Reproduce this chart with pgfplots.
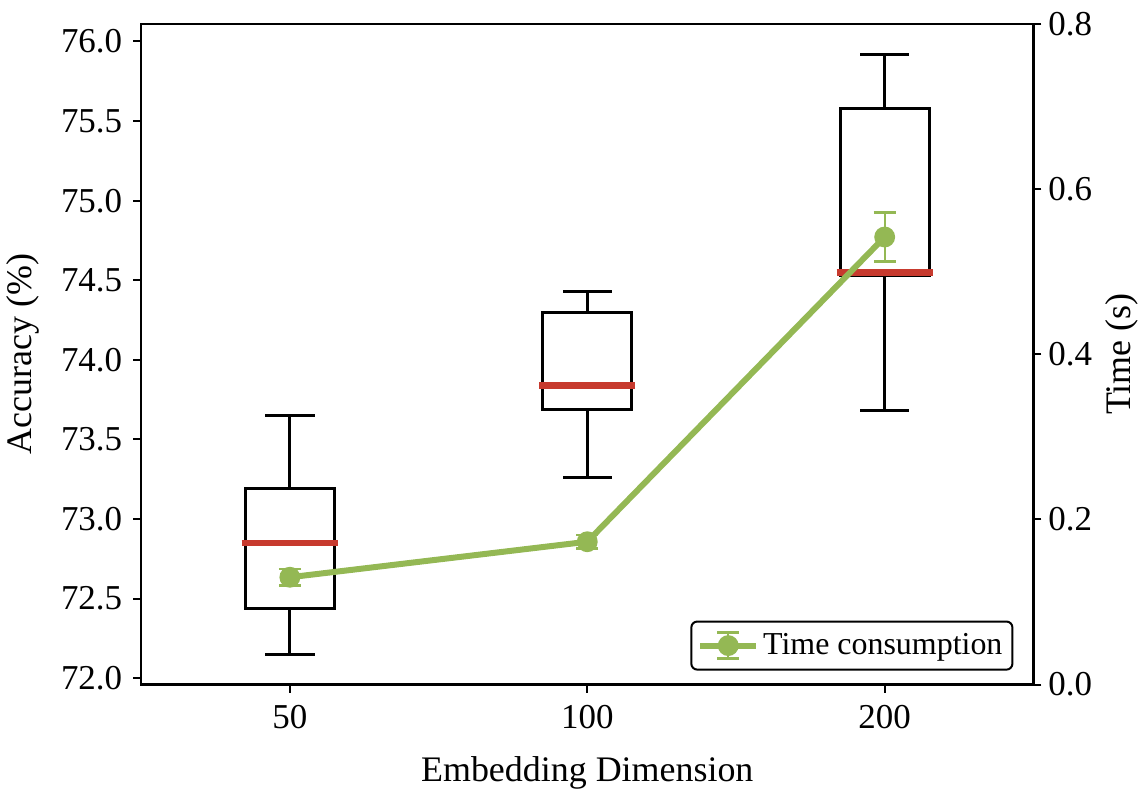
\documentclass[border=0pt]{standalone}
\usepackage{fontspec}
\setmainfont{Liberation Serif}
\usepackage{pgfplots}
\pgfplotsset{compat=1.18}
\definecolor{medred}{HTML}{C73A2E}
\definecolor{tgreen}{HTML}{94B854}
\pgfplotsset{
  boxline/.style={black, line width=1.5pt, line join=miter, line cap=rect, mark=none},
  medline/.style={medred, line width=3.3pt, mark=none},
}
\begin{document}
\begin{tikzpicture}[font=\fontsize{17}{20}\selectfont]
\begin{axis}[
  scale only axis, width=447pt, height=331pt,
  xmin=0.5, xmax=3.5, ymin=71.96, ymax=76.11,
  xtick={1,2,3}, xticklabels={50,100,200},
  ytick={72,72.5,73,73.5,74,74.5,75,75.5,76},
  /pgf/number format/assume math mode=true,
  tick label style={font=\fontsize{17.5}{20}\selectfont},
  yticklabel style={/tikz/xshift=-2pt, /pgf/number format/.cd, fixed, fixed zerofill, precision=1},
  xticklabel style={/tikz/yshift=-3pt},
  label style={font=\fontsize{18}{21}\selectfont},
  xlabel style={inner sep=1pt},
  ylabel shift=4pt, xlabel shift=9pt,
  tick align=outside, xtick pos=bottom, ytick pos=left,
  major tick length=4pt,
  every tick/.style={black, line width=1pt},
  axis line style={line width=1.2pt},
  xlabel={Embedding Dimension}, ylabel={Accuracy (\%)},
]
% box 50
\addplot[boxline] coordinates {(0.85,72.44) (1.15,72.44) (1.15,73.19) (0.85,73.19) (0.85,72.44)};
\addplot[boxline] coordinates {(1,73.19) (1,73.65)};
\addplot[boxline] coordinates {(0.922,73.65) (1.078,73.65)};
\addplot[boxline] coordinates {(1,72.44) (1,72.15)};
\addplot[boxline] coordinates {(0.922,72.15) (1.078,72.15)};
\addplot[medline] coordinates {(0.838,72.85) (1.162,72.85)};
% box 100
\addplot[boxline] coordinates {(1.85,73.69) (2.15,73.69) (2.15,74.30) (1.85,74.30) (1.85,73.69)};
\addplot[boxline] coordinates {(2,74.30) (2,74.43)};
\addplot[boxline] coordinates {(1.922,74.43) (2.078,74.43)};
\addplot[boxline] coordinates {(2,73.69) (2,73.26)};
\addplot[boxline] coordinates {(1.922,73.26) (2.078,73.26)};
\addplot[medline] coordinates {(1.838,73.84) (2.162,73.84)};
% box 200
\addplot[boxline] coordinates {(2.85,74.53) (3.15,74.53) (3.15,75.58) (2.85,75.58) (2.85,74.53)};
\addplot[boxline] coordinates {(3,75.58) (3,75.92)};
\addplot[boxline] coordinates {(2.922,75.92) (3.078,75.92)};
\addplot[boxline] coordinates {(3,74.53) (3,73.68)};
\addplot[boxline] coordinates {(2.922,73.68) (3.078,73.68)};
\addplot[medline] coordinates {(2.838,74.55) (3.162,74.55)};
\end{axis}
\begin{axis}[
  scale only axis, width=447pt, height=331pt,
  xmin=0.5, xmax=3.5, ymin=0, ymax=0.8,
  axis x line=none, axis y line*=right,
  ytick={0,0.2,0.4,0.6,0.8},
  /pgf/number format/assume math mode=true,
  tick label style={font=\fontsize{17.5}{20}\selectfont},
  yticklabel style={/pgf/number format/.cd, fixed, fixed zerofill, precision=1},
  label style={font=\fontsize{18}{21}\selectfont},
  tick align=outside, major tick length=4pt,
  every tick/.style={black, line width=1pt},
  axis line style={line width=1.2pt},
  ylabel={Time (s)},
  legend style={at={(rel axis cs:1,0)}, anchor=south east, xshift=-10pt, yshift=7pt,
    draw=black, line width=1pt, rounded corners=3pt, inner xsep=3pt, inner ysep=4pt,
    font=\fontsize{16}{19}\selectfont},
  legend cell align=left,
  after end axis/.code={\path (rel axis cs:1,1) ++(0pt,12pt);},
]
\addplot[tgreen, line width=3pt, mark=*, mark size=3.7pt,
  legend image code/.code={
    \draw[tgreen, line width=3pt] (0pt,0pt) -- (28pt,0pt);
    \draw[tgreen, line width=1pt] (14pt,-6.5pt) -- (14pt,6.5pt);
    \draw[tgreen, line width=1.3pt] (8.5pt,-6.5pt) -- (19.5pt,-6.5pt);
    \draw[tgreen, line width=1.3pt] (8.5pt,6.5pt) -- (19.5pt,6.5pt);
    \fill[tgreen] (14pt,0pt) circle (3.7pt);
  },
  error bars/.cd, y dir=both, y explicit,
  error bar style={line width=1pt, tgreen},
  error mark options={rotate=90, mark size=5.5pt, line width=1.3pt, tgreen}]
  coordinates {(1,0.130) +- (0,0.010) (2,0.173) +- (0,0.008) (3,0.542) +- (0,0.030)};
\addlegendentry{Time consumption}
\end{axis}
\end{tikzpicture}
\end{document}
